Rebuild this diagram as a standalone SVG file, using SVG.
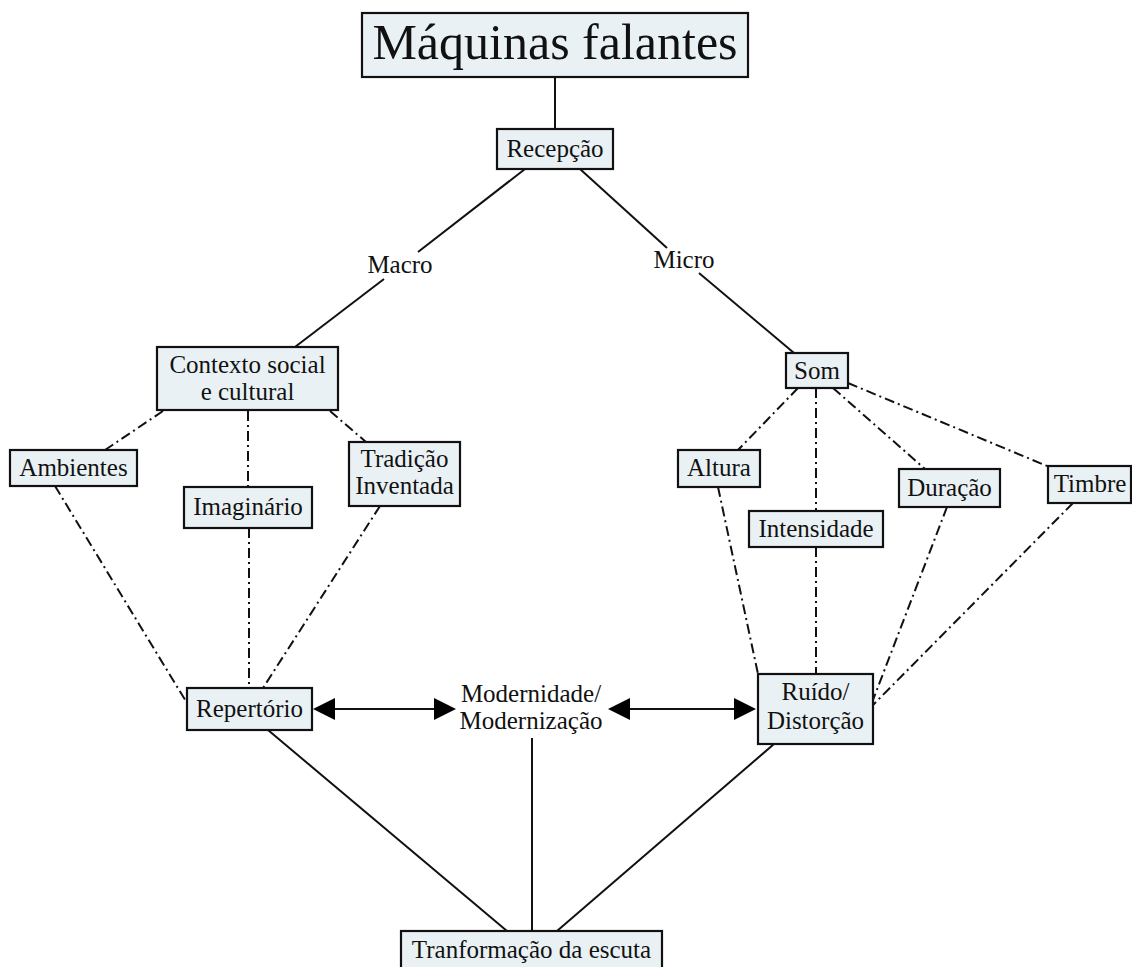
<svg xmlns="http://www.w3.org/2000/svg" width="1132" height="967" viewBox="0 0 1132 967">
<style>
.box{fill:#eaf1f5;stroke:#111;stroke-width:2.2}
.t{font-family:"Liberation Serif","Times New Roman",serif;font-size:25px;fill:#111;text-anchor:middle}
.solid{stroke:#111;stroke-width:2;fill:none}
.dd{stroke:#111;stroke-width:2;fill:none;stroke-dasharray:10 4 2 4}
.head{fill:#000}
</style>
<rect width="1132" height="967" fill="#fff"/>
<g id="connectors">
<line class="solid" x1="555" y1="77" x2="555" y2="129"/>
<line class="solid" x1="525" y1="169" x2="418" y2="252"/>
<line class="solid" x1="384" y1="279" x2="295" y2="347"/>
<line class="solid" x1="580" y1="169" x2="667" y2="248"/>
<line class="solid" x1="699" y1="273" x2="794" y2="353"/>
<line class="dd" x1="163" y1="411" x2="105" y2="450"/>
<line class="dd" x1="248" y1="411" x2="248" y2="487"/>
<line class="dd" x1="330" y1="411" x2="366" y2="442"/>
<line class="dd" x1="55" y1="486" x2="187" y2="703"/>
<line class="dd" x1="249" y1="528" x2="249" y2="688"/>
<line class="dd" x1="380" y1="506" x2="263" y2="688"/>
<line class="dd" x1="798" y1="388" x2="738" y2="450"/>
<line class="dd" x1="816" y1="388" x2="816" y2="511"/>
<line class="dd" x1="833" y1="388" x2="925" y2="469"/>
<line class="dd" x1="848" y1="383" x2="1047" y2="466"/>
<line class="dd" x1="718" y1="487" x2="758" y2="674"/>
<line class="dd" x1="816" y1="547" x2="816" y2="674"/>
<line class="dd" x1="947" y1="507" x2="873" y2="700"/>
<line class="dd" x1="1073" y1="503" x2="873" y2="705"/>
<line class="solid" x1="268" y1="730" x2="507" y2="931"/>
<line class="solid" x1="532" y1="738" x2="532" y2="931"/>
<line class="solid" x1="774" y1="744" x2="557" y2="931"/>
<line class="solid" x1="330" y1="709" x2="440" y2="709"/>
<polygon class="head" points="313,709 335,698 335,720"/>
<polygon class="head" points="456,709 434,698 434,720"/>
<line class="solid" x1="625" y1="709" x2="740" y2="709"/>
<polygon class="head" points="608,709 630,698 630,720"/>
<polygon class="head" points="756,709 734,698 734,720"/>
</g>
<g id="title">
<rect class="box" x="362" y="13" width="386" height="64"/>
<text class="t" x="555" y="59" style="font-size:50px">Máquinas falantes</text>
</g>
<g id="recepcao">
<rect class="box" x="497" y="129" width="116" height="40"/>
<text class="t" x="555" y="157">Recepção</text>
</g>
<g id="macro"><text class="t" x="400" y="273">Macro</text></g>
<g id="micro"><text class="t" x="684" y="268">Micro</text></g>
<g id="contexto">
<rect class="box" x="157" y="347" width="181" height="63"/>
<text class="t" x="247.5" y="373">Contexto social</text>
<text class="t" x="247.5" y="400">e cultural</text>
</g>
<g id="ambientes">
<rect class="box" x="10" y="450" width="127" height="36"/>
<text class="t" x="73.5" y="476">Ambientes</text>
</g>
<g id="imaginario">
<rect class="box" x="184" y="487" width="128" height="41"/>
<text class="t" x="248" y="515">Imaginário</text>
</g>
<g id="tradicao">
<rect class="box" x="349" y="442" width="111" height="64"/>
<text class="t" x="404.5" y="467">Tradição</text>
<text class="t" x="404.5" y="494">Inventada</text>
</g>
<g id="repertorio">
<rect class="box" x="187" y="688" width="125" height="42"/>
<text class="t" x="249.5" y="717">Repertório</text>
</g>
<g id="modernidade">
<text class="t" x="531" y="702">Modernidade/</text>
<text class="t" x="531" y="729">Modernização</text>
</g>
<g id="som">
<rect class="box" x="786" y="353" width="62" height="35"/>
<text class="t" x="817" y="379">Som</text>
</g>
<g id="altura">
<rect class="box" x="678" y="450" width="82" height="37"/>
<text class="t" x="719" y="476">Altura</text>
</g>
<g id="intensidade">
<rect class="box" x="749" y="511" width="134" height="36"/>
<text class="t" x="816" y="537">Intensidade</text>
</g>
<g id="duracao">
<rect class="box" x="899" y="469" width="101" height="38"/>
<text class="t" x="949.5" y="496">Duração</text>
</g>
<g id="timbre">
<rect class="box" x="1048" y="466" width="83" height="37"/>
<text class="t" x="1090" y="492">Timbre</text>
</g>
<g id="ruido">
<rect class="box" x="758" y="674" width="115" height="70"/>
<text class="t" x="815.5" y="700">Ruído/</text>
<text class="t" x="815.5" y="729">Distorção</text>
</g>
<g id="tranformacao">
<rect class="box" x="401" y="931" width="261" height="45"/>
<text class="t" x="531.5" y="958">Tranformação da escuta</text>
</g>
</svg>
